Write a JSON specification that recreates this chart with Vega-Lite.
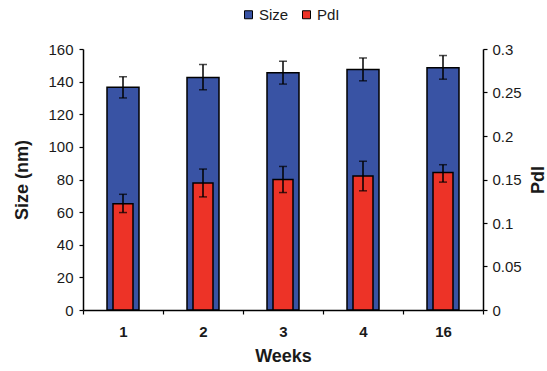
{
  "$schema": "https://vega.github.io/schema/vega-lite/v6.json",
  "width": 400,
  "height": 261,
  "autosize": {"type": "none"},
  "padding": {"left": 83, "top": 49, "right": 64, "bottom": 61},
  "background": "white",
  "config": {
    "view": {"stroke": null},
    "font": "Liberation Sans",
    "axis": {
      "domainColor": "black",
      "domainWidth": 1.5,
      "tickColor": "black",
      "tickWidth": 1.2,
      "tickSize": 4,
      "grid": false,
      "labelFont": "Liberation Sans",
      "labelFontSize": 15,
      "labelColor": "#1a1a1a",
      "titleFont": "Liberation Sans",
      "titleFontSize": 18,
      "titleFontWeight": "bold",
      "titleColor": "#1a1a1a"
    }
  },
  "data": {
    "values": [
      {"week": "1", "size": 136.5, "size_lo": 130, "size_hi": 143, "pdi": 0.122, "pdi_lo": 0.112, "pdi_hi": 0.133},
      {"week": "2", "size": 142.5, "size_lo": 135, "size_hi": 150.5, "pdi": 0.146, "pdi_lo": 0.13, "pdi_hi": 0.162},
      {"week": "3", "size": 145.5, "size_lo": 138.5, "size_hi": 152.5, "pdi": 0.15, "pdi_lo": 0.135, "pdi_hi": 0.165},
      {"week": "4", "size": 147.5, "size_lo": 140.5, "size_hi": 154.5, "pdi": 0.154, "pdi_lo": 0.137, "pdi_hi": 0.171},
      {"week": "16", "size": 148.5, "size_lo": 141.5, "size_hi": 156, "pdi": 0.158, "pdi_lo": 0.147, "pdi_hi": 0.167}
    ]
  },
  "encoding": {
    "x": {
      "field": "week",
      "type": "ordinal",
      "sort": ["1", "2", "3", "4", "16"],
      "scale": {"paddingInner": 0, "paddingOuter": 0},
      "axis": {
        "title": "Weeks",
        "labelAngle": 0,
        "labelFontWeight": "bold",
        "tickBand": "extent",
        "labelPadding": 10,
        "titlePadding": 8
      }
    }
  },
  "layer": [
    {
      "layer": [
        {
          "mark": {"type": "bar", "width": {"band": 0.4}, "stroke": "black", "strokeWidth": 1.5},
          "encoding": {
            "y": {
              "field": "size",
              "type": "quantitative",
              "scale": {"domain": [0, 160]},
              "axis": {"title": "Size (nm)", "values": [0, 20, 40, 60, 80, 100, 120, 140, 160], "labelPadding": 6, "titlePadding": 16}
            },
            "color": {
              "datum": "Size",
              "scale": {"domain": ["Size", "PdI"], "range": ["#3953a4", "#ed3327"]},
              "legend": {
                "title": null,
                "orient": "none",
                "direction": "horizontal",
                "legendX": 158,
                "legendY": -42,
                "symbolType": "square",
                "symbolSize": 64,
                "symbolStrokeColor": "black",
                "symbolStrokeWidth": 1,
                "labelFontSize": 15,
                "labelColor": "#1a1a1a",
                "labelOffset": 3,
                "columnPadding": 10
              }
            }
          }
        },
        {
          "mark": {"type": "rule", "color": "black", "strokeWidth": 1.5},
          "encoding": {
            "y": {"field": "size_lo", "type": "quantitative", "axis": {"title": "Size (nm)", "values": [0, 20, 40, 60, 80, 100, 120, 140, 160], "labelPadding": 6, "titlePadding": 16}},
            "y2": {"field": "size_hi"}
          }
        },
        {
          "mark": {"type": "tick", "color": "black", "size": 8, "thickness": 1.5},
          "encoding": {"y": {"field": "size_lo", "type": "quantitative", "axis": {"title": "Size (nm)", "values": [0, 20, 40, 60, 80, 100, 120, 140, 160], "labelPadding": 6, "titlePadding": 16}}}
        },
        {
          "mark": {"type": "tick", "color": "black", "size": 8, "thickness": 1.5},
          "encoding": {"y": {"field": "size_hi", "type": "quantitative", "axis": {"title": "Size (nm)", "values": [0, 20, 40, 60, 80, 100, 120, 140, 160], "labelPadding": 6, "titlePadding": 16}}}
        }
      ]
    },
    {
      "layer": [
        {
          "mark": {"type": "bar", "width": {"band": 0.25}, "stroke": "black", "strokeWidth": 1.5},
          "encoding": {
            "y": {
              "field": "pdi",
              "type": "quantitative",
              "scale": {"domain": [0, 0.3]},
              "axis": {"orient": "right", "title": "PdI", "titleAngle": -90, "values": [0, 0.05, 0.1, 0.15, 0.2, 0.25, 0.3], "format": ".2~f", "labelPadding": 5, "titlePadding": 26}
            },
            "color": {"datum": "PdI"}
          }
        },
        {
          "mark": {"type": "rule", "color": "black", "strokeWidth": 1.5},
          "encoding": {
            "y": {"field": "pdi_lo", "type": "quantitative", "axis": {"orient": "right", "title": "PdI", "titleAngle": -90, "values": [0, 0.05, 0.1, 0.15, 0.2, 0.25, 0.3], "format": ".2~f", "labelPadding": 5, "titlePadding": 26}},
            "y2": {"field": "pdi_hi"}
          }
        },
        {
          "mark": {"type": "tick", "color": "black", "size": 8, "thickness": 1.5},
          "encoding": {"y": {"field": "pdi_lo", "type": "quantitative", "axis": {"orient": "right", "title": "PdI", "titleAngle": -90, "values": [0, 0.05, 0.1, 0.15, 0.2, 0.25, 0.3], "format": ".2~f", "labelPadding": 5, "titlePadding": 26}}}
        },
        {
          "mark": {"type": "tick", "color": "black", "size": 8, "thickness": 1.5},
          "encoding": {"y": {"field": "pdi_hi", "type": "quantitative", "axis": {"orient": "right", "title": "PdI", "titleAngle": -90, "values": [0, 0.05, 0.1, 0.15, 0.2, 0.25, 0.3], "format": ".2~f", "labelPadding": 5, "titlePadding": 26}}}
        }
      ]
    }
  ],
  "resolve": {"scale": {"y": "independent"}}
}
